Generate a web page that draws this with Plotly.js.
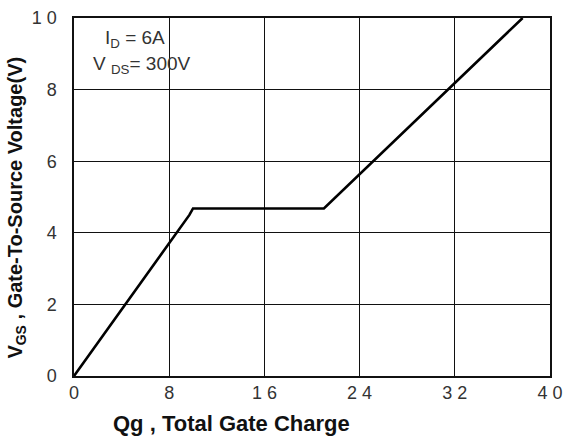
<!DOCTYPE html>
<html><head><meta charset="utf-8">
<script src="https://cdn.plot.ly/plotly-3.0.1.min.js"></script>
<style>html,body{margin:0;padding:0;background:#fff}</style>
</head><body>
<div id="chart" style="width:567px;height:437px"></div>
<script>
const qg = [0, 9.7, 10, 21, 37.7];
const vgs = [0, 4.5, 4.68, 4.68, 10];
const xTickVals = [0, 8, 16, 24, 32, 40];
const xTickText = ["0", "8", "1 6", "2 4", "3 2", "4 0"];
const yTickVals = [0, 2, 4, 6, 8, 10];
const yTickText = ["0", "2", "4", "6", "8", "1 0"];

const F = 'Liberation Sans, Arial, sans-serif';
const trace = {x: qg, y: vgs, mode: 'lines', line: {color: '#000', width: 2.6}, hoverinfo: 'skip', cliponaxis: false};
const ax = {showline: true, mirror: true, linecolor: '#111', linewidth: 1.6, showgrid: true, gridcolor: '#111', gridwidth: 1.2, zeroline: false, ticks: '', tickmode: 'array', tickfont: {family: F, size: 18, color: '#333'}};
const layout = {
  width: 567, height: 437,
  margin: {l: 74, r: 17, t: 18, b: 61},
  paper_bgcolor: '#fff', plot_bgcolor: '#fff',
  showlegend: false,
  xaxis: Object.assign({}, ax, {range: [0, 40], tickvals: xTickVals, ticktext: xTickText, ticklabelstandoff: 0}),
  yaxis: Object.assign({}, ax, {range: [0, 10], tickvals: yTickVals, ticktext: yTickText, ticklabelstandoff: 12}),
  annotations: [
    {xref: 'paper', yref: 'paper', x: 0.33, y: -0.134, xanchor: 'center', yanchor: 'middle', showarrow: false,
     text: '<b>Qg , Total Gate Charge</b>', font: {family: F, size: 22, color: '#111'}},
    {xref: 'paper', yref: 'paper', x: -0.12, y: 0.47, xanchor: 'center', yanchor: 'middle', showarrow: false, textangle: -90,
     text: '<b>V<sub>GS</sub> , Gate-To-Source Voltage(V)</b>', font: {family: F, size: 20, color: '#111'}},
    {xref: 'paper', yref: 'paper', x: 0.06, y: 0.94, xanchor: 'left', yanchor: 'middle', showarrow: false,
     text: 'I<sub>D</sub> = 6A', font: {family: F, size: 19, color: '#333'}},
    {xref: 'paper', yref: 'paper', x: 0.035, y: 0.87, xanchor: 'left', yanchor: 'middle', showarrow: false,
     text: 'V <sub>DS</sub>= 300V', font: {family: F, size: 19, color: '#333'}}
  ]
};
Plotly.newPlot('chart', [trace], layout, {displayModeBar: false, staticPlot: true});
</script>
</body></html>
